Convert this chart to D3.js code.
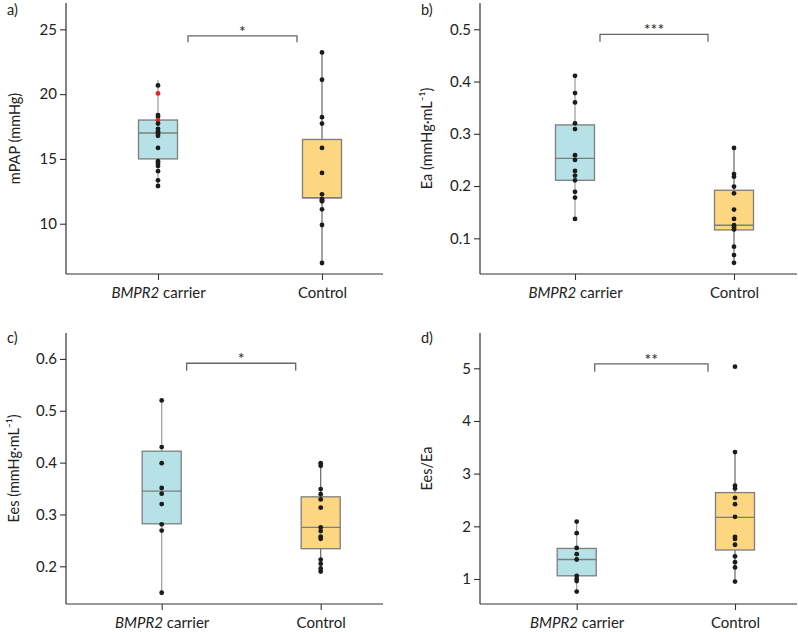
<!DOCTYPE html>
<html>
<head>
<meta charset="utf-8">
<script src="https://cdn.jsdelivr.net/npm/d3@7"></script>
<style>
  body { margin: 0; background: #fff; }
  svg { display: block; font-family: Lato, "Open Sans", "Noto Sans", sans-serif; }
</style>
</head>
<body>
<svg id="chart" width="798" height="632"></svg>
<script>
// ---------- Data ----------
const categories = ["BMPR2 carrier", "Control"];

// a) mPAP (mmHg)
const mpapCarrier = [20.67, 20.05, 18.38, 18.25, 17.99, 17.73, 17.32, 17.14, 16.96, 16.78, 15.85, 14.82, 14.64, 14.46, 14.05, 13.35, 12.91];
const mpapCarrierHighlight = [20.05, 17.99];
const mpapControl = [23.22, 21.11, 18.22, 17.73, 15.85, 13.92, 12.27, 11.89, 11.8, 11.73, 11.11, 9.90, 6.97];
const mpapCarrierBox = [12.91, 15.0, 17.0, 18.0, 21.06];   // [whisker lo, Q1, median, Q3, whisker hi]
const mpapControlBox = [6.97, 12.0, 12.0, 16.5, 23.22];
const mpapTicks = [10, 15, 20, 25];

// b) Ea (mmHg·mL⁻¹)
const eaCarrier = [0.411, 0.378, 0.360, 0.320, 0.309, 0.259, 0.250, 0.229, 0.220, 0.211, 0.189, 0.178, 0.137];
const eaControl = [0.273, 0.223, 0.218, 0.199, 0.186, 0.155, 0.137, 0.125, 0.121, 0.117, 0.084, 0.068, 0.053];
const eaCarrierBox = [0.137, 0.211, 0.253, 0.317, 0.411];
const eaControlBox = [0.053, 0.116, 0.125, 0.192, 0.273];
const eaTicks = [0.1, 0.2, 0.3, 0.4, 0.5];

// c) Ees (mmHg·mL⁻¹)
const eesCarrier = [0.520, 0.430, 0.399, 0.351, 0.340, 0.320, 0.281, 0.269, 0.149];
const eesControl = [0.399, 0.394, 0.349, 0.339, 0.329, 0.313, 0.275, 0.268, 0.257, 0.253, 0.213, 0.205, 0.196, 0.190];
const eesCarrierBox = [0.149, 0.282, 0.345, 0.422, 0.520];
const eesControlBox = [0.190, 0.234, 0.275, 0.334, 0.400];
const eesTicks = [0.2, 0.3, 0.4, 0.5, 0.6];

// d) Ees/Ea
const ratioCarrier = [2.09, 1.87, 1.59, 1.47, 1.37, 1.06, 1.00, 0.96, 0.76];
const ratioControl = [5.03, 3.41, 2.77, 2.72, 2.54, 2.42, 2.18, 1.80, 1.76, 1.65, 1.43, 1.32, 1.22, 0.95];
const ratioCarrierBox = [0.76, 1.06, 1.37, 1.58, 2.09];
const ratioControlBox = [0.95, 1.55, 2.17, 2.64, 3.41];
const ratioTicks = [1, 2, 3, 4, 5];

const significance = ["*", "***", "*", "**"];
const panelLabels = ["a)", "b)", "c)", "d)"];

// ---------- Layout ----------
const panels = [
  { label: panelLabels[0], title: "mPAP (mmHg)", carrier: mpapCarrier, control: mpapControl,
    carrierBox: mpapCarrierBox, controlBox: mpapControlBox, highlight: mpapCarrierHighlight,
    ticks: mpapTicks, fmt: d3.format("d"), domain: [6.12, 27.03], sig: significance[0],
    bracket: [24.5, 24.0], bx: [30, -25],
    left: 66, right: 383, top: 3, bottom: 274, cx: [158, 322], labelXY: [7, 15], titleX: 15 },
  { label: panelLabels[1], title: "Ea (mmHg\u00b7mL\u207b\u00b9)", carrier: eaCarrier, control: eaControl,
    carrierBox: eaCarrierBox, controlBox: eaControlBox, highlight: [],
    ticks: eaTicks, fmt: d3.format(".1f"), domain: [0.0317, 0.5503], sig: significance[1],
    bracket: [0.4904, 0.4763], bx: [25, -26],
    left: 480, right: 797, top: 3, bottom: 274, cx: [575, 734], labelXY: [421, 15], titleX: 427 },
  { label: panelLabels[2], title: "Ees (mmHg\u00b7mL\u207b\u00b9)", carrier: eesCarrier, control: eesControl,
    carrierBox: eesCarrierBox, controlBox: eesControlBox, highlight: [],
    ticks: eesTicks, fmt: d3.format(".1f"), domain: [0.1273, 0.650], sig: significance[2],
    bracket: [0.5917, 0.5774], bx: [25, -25],
    left: 66, right: 383, top: 333, bottom: 604, cx: [161.7, 320.7], labelXY: [7, 343], titleX: 14 },
  { label: panelLabels[3], title: "Ees/Ea", carrier: ratioCarrier, control: ratioControl,
    carrierBox: ratioCarrierBox, controlBox: ratioControlBox, highlight: [],
    ticks: ratioTicks, fmt: d3.format("d"), domain: [0.525, 5.67], sig: significance[3],
    bracket: [5.082, 4.935], bx: [18, -27],
    left: 480, right: 797, top: 333, bottom: 604, cx: [576.7, 735], labelXY: [421, 343], titleX: 427 }
];

const fills = ["#b6e1e6", "#fcd681"];
const boxStroke = "#7d7d7d";
const whiskerColor = ["#999999", "#666666"];
const boxW = 39;
const axisColor = "#333";
const textColor = "#222";

const svg = d3.select("#chart");

panels.forEach(p => {
  const g = svg.append("g");
  const y = d3.scaleLinear().domain(p.domain).range([p.bottom, p.top]);
  const x = d3.scalePoint().domain(categories).range(p.cx);

  // y axis
  const ya = g.append("g").attr("transform", `translate(${p.left},0)`)
    .call(d3.axisLeft(y).tickValues(p.ticks).tickFormat(p.fmt).tickSize(6).tickPadding(3));
  ya.select(".domain").remove();
  ya.selectAll(".tick line").attr("stroke", axisColor).attr("stroke-width", 1.1);
  ya.selectAll(".tick text").attr("font-size", 15).attr("fill", textColor)
    .attr("font-family", "Lato, 'Open Sans', sans-serif");

  // x axis
  const xa = g.append("g").attr("transform", `translate(0,${p.bottom})`)
    .call(d3.axisBottom(x).tickSize(6).tickPadding(7).tickFormat(""));
  xa.select(".domain").remove();
  xa.selectAll(".tick line").attr("stroke", axisColor).attr("stroke-width", 1.1);
  xa.selectAll(".tick").each(function(d) {
    const t = d3.select(this).append("text")
      .attr("y", 24).attr("text-anchor", "middle")
      .attr("font-size", 15).attr("fill", textColor)
      .attr("font-family", "Lato, 'Open Sans', sans-serif");
    if (d === categories[0]) {
      t.append("tspan").attr("font-style", "italic").text("BMPR2");
      t.append("tspan").text(" carrier");
    } else {
      t.text(d);
    }
  });

  // axis lines
  g.append("line").attr("x1", p.left).attr("x2", p.left).attr("y1", p.top).attr("y2", p.bottom)
    .attr("stroke", axisColor).attr("stroke-width", 1.2);
  g.append("line").attr("x1", p.left).attr("x2", p.right).attr("y1", p.bottom).attr("y2", p.bottom)
    .attr("stroke", axisColor).attr("stroke-width", 1.2);

  // axis title
  g.append("text")
    .attr("transform", `translate(${p.titleX},${(p.top + p.bottom) / 2}) rotate(-90)`)
    .attr("text-anchor", "middle").attr("dy", "0.35em")
    .attr("font-size", 14.5).attr("fill", textColor).text(p.title);

  // panel label
  g.append("text").attr("x", p.labelXY[0]).attr("y", p.labelXY[1])
    .attr("font-size", 14.5).attr("fill", textColor).text(p.label);

  // boxes
  const groups = [
    { cat: categories[0], box: p.carrierBox, pts: p.carrier, fill: fills[0], wc: whiskerColor[0] },
    { cat: categories[1], box: p.controlBox, pts: p.control, fill: fills[1], wc: whiskerColor[1] }
  ];
  groups.forEach(gr => {
    const cx = x(gr.cat);
    const [lo, q1, med, q3, hi] = gr.box;
    g.append("line").attr("x1", cx).attr("x2", cx).attr("y1", y(hi)).attr("y2", y(lo))
      .attr("stroke", gr.wc).attr("stroke-width", 1.2);
    g.append("rect").attr("x", cx - boxW / 2).attr("width", boxW)
      .attr("y", y(q3)).attr("height", Math.max(1, y(q1) - y(q3)))
      .attr("fill", gr.fill).attr("stroke", boxStroke).attr("stroke-width", 1.3);
    g.append("line").attr("x1", cx - boxW / 2).attr("x2", cx + boxW / 2)
      .attr("y1", y(med)).attr("y2", y(med))
      .attr("stroke", boxStroke).attr("stroke-width", 1.4);
    g.selectAll(null).data(gr.pts).enter().append("circle")
      .attr("cx", cx).attr("cy", d => y(d)).attr("r", 2.4)
      .attr("fill", d => (gr.cat === categories[0] && p.highlight.includes(d)) ? "#e0281e" : "#1c1c1c");
  });

  // significance bracket
  const x1 = x(categories[0]) + p.bx[0], x2 = x(categories[1]) + p.bx[1];
  const yb = y(p.bracket[0]), yt = y(p.bracket[1]);
  g.append("path")
    .attr("d", `M${x1},${yt}V${yb}H${x2}V${yt}`)
    .attr("fill", "none").attr("stroke", "#666").attr("stroke-width", 1.3);
  g.append("text").attr("x", (x1 + x2) / 2).attr("y", yb + 1)
    .attr("text-anchor", "middle").attr("font-size", 16).attr("fill", textColor)
    .text(p.sig);
});
</script>
</body>
</html>
